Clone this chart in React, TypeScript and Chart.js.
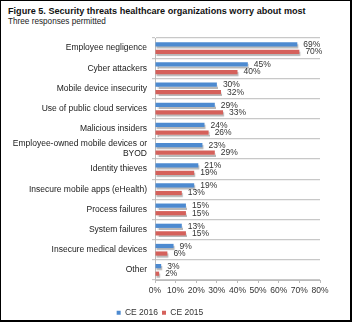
import React, { useEffect, useRef } from "react";
import { Chart, registerables } from "chart.js";

Chart.register(...registerables);

const categories: (string | string[])[] = [
  "Employee negligence",
  "Cyber attackers",
  "Mobile device insecurity",
  "Use of public cloud services",
  "Malicious insiders",
  ["Employee-owned mobile devices or", "BYOD"],
  "Identity thieves",
  "Insecure mobile apps (eHealth)",
  "Process failures",
  "System failures",
  "Insecure medical devices",
  "Other",
];
const ce2016 = [69, 45, 30, 29, 24, 23, 21, 19, 15, 13, 9, 3];
const ce2015 = [70, 40, 32, 33, 26, 29, 19, 13, 15, 15, 6, 2];
const xTicks = [0, 10, 20, 30, 40, 50, 60, 70, 80];

const FONT = "Arial, 'Liberation Sans', sans-serif";

const barPlugin = {
  id: "shadowAndLabels",
  beforeDatasetsDraw(chart: any) {
    const ctx = chart.ctx;
    ctx.save();
    ctx.shadowColor = "rgba(0,0,0,0.28)";
    ctx.shadowOffsetX = 1;
    ctx.shadowOffsetY = 2;
    ctx.shadowBlur = 1;
  },
  afterDatasetsDraw(chart: any) {
    const ctx = chart.ctx;
    ctx.restore();
    ctx.save();
    ctx.font = `8.5px ${FONT}`;
    ctx.fillStyle = "#333333";
    ctx.textAlign = "left";
    ctx.textBaseline = "middle";
    chart.data.datasets.forEach((ds: any, di: number) => {
      const meta = chart.getDatasetMeta(di);
      meta.data.forEach((bar: any, i: number) => {
        ctx.fillText(ds.data[i] + "%", bar.x + 6, bar.y + (di === 0 ? 0.5 : 0));
      });
    });
    ctx.restore();
  },
};

export default function App() {
  const ref = useRef<HTMLCanvasElement>(null);
  useEffect(() => {
    if (!ref.current) return;
    const chart = new Chart(ref.current, {
      type: "bar",
      data: {
        labels: categories,
        datasets: [
          {
            label: "CE 2016",
            data: ce2016,
            backgroundColor: "#4d8ad0",
            categoryPercentage: 0.75,
            barPercentage: 0.56,
          },
          {
            label: "CE 2015",
            data: ce2015,
            backgroundColor: "#d5615b",
            categoryPercentage: 0.75,
            barPercentage: 0.56,
          },
        ],
      },
      options: {
        indexAxis: "y",
        animation: false,
        responsive: true,
        maintainAspectRatio: false,
        layout: { padding: { top: 38, right: 32, left: 0, bottom: -5 } },
        scales: {
          x: {
            min: 0,
            max: 80,
            afterBuildTicks(scale: any) {
              scale.ticks = xTicks.map((v) => ({ value: v }));
            },
            afterFit(scale: any) {
              scale.height = 24.5;
            },
            ticks: {
              callback: (v: any) => v + "%",
              font: { family: FONT, size: 8.5 },
              color: "#333333",
              padding: 3,
              maxRotation: 0,
              autoSkip: false,
            },
            grid: {
              drawOnChartArea: false,
              tickLength: 3,
              color: "#bbbbbb",
            },
            border: { color: "#bbbbbb", width: 1 },
          },
          y: {
            afterFit(scale: any) {
              scale.width = 155;
            },
            ticks: {
              font: { family: FONT, size: 8.5 },
              color: "#1a1a1a",
              padding: 5,
              autoSkip: false,
            },
            grid: {
              offset: true,
              tickLength: 3,
              color: "#c8c8c8",
              lineWidth: 1.2,
            },
            border: { color: "#bbbbbb", width: 1 },
          },
        },
        plugins: {
          legend: {
            position: "bottom",
            labels: {
              usePointStyle: true,
              pointStyle: "rect",
              boxWidth: 4,
              boxHeight: 4,
              padding: 4,
              font: { family: FONT, size: 8.5 },
              color: "#333333",
            },
          },
          tooltip: { enabled: false },
        },
      },
      plugins: [barPlugin],
    });
    return () => chart.destroy();
  }, []);

  return (
    <div
      style={{
        position: "fixed",
        left: 0,
        top: 0,
        width: 352,
        height: 322,
        background: "#ffffff",
        boxSizing: "border-box",
        borderLeft: "1px solid #000",
        borderTop: "1px solid #000",
        borderRight: "2px solid #000",
        borderBottom: "2px solid #000",
      }}
    >
      <div
        style={{
          position: "absolute",
          left: 7,
          top: 5,
          fontFamily: FONT,
          fontWeight: "bold",
          fontSize: 9.1,
          color: "#111",
          whiteSpace: "nowrap",
          lineHeight: "11px",
        }}
      >
        Figure 5. Security threats healthcare organizations worry about most
      </div>
      <div
        style={{
          position: "absolute",
          left: 7,
          top: 16,
          fontFamily: FONT,
          fontSize: 8.2,
          color: "#222",
          whiteSpace: "nowrap",
          lineHeight: "10px",
        }}
      >
        Three responses permitted
      </div>
      <div style={{ position: "absolute", left: -1, top: -1, width: 352, height: 322 }}>
        <canvas ref={ref} />
      </div>
    </div>
  );
}
